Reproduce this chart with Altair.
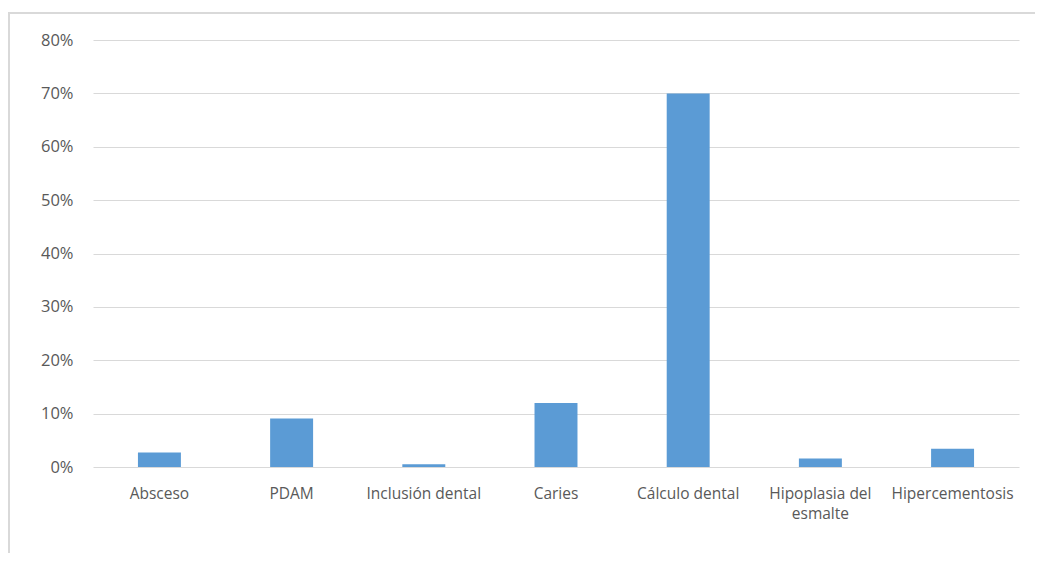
import altair as alt
import pandas as pd

categories = ["Absceso", "PDAM", "Inclusión dental", "Caries", "Cálculo dental",
              "Hipoplasia del esmalte", "Hipercementosis"]
values = [0.027, 0.091, 0.005, 0.120, 0.700, 0.016, 0.034]

df = pd.DataFrame({"cat": categories, "val": values})

font = "Open Sans"
bars = alt.Chart(df).mark_bar(color="#5b9bd5").encode(
    x=alt.X("cat:N", sort=categories, title=None,
            scale=alt.Scale(paddingInner=0.675, paddingOuter=0.34),
            axis=alt.Axis(labelAngle=0, labelFont=font, labelFontSize=15.5,
                          labelColor="#595959", labelPadding=19, ticks=False,
                          domain=False, labelLimit=200, labelLineHeight=20,
                          labelExpr="datum.value == 'Hipoplasia del esmalte' ? ['Hipoplasia del', 'esmalte'] : datum.value")),
    y=alt.Y("val:Q", title=None,
            scale=alt.Scale(domain=[0, 0.8]),
            axis=alt.Axis(format=".0%", values=[0, 0.1, 0.2, 0.3, 0.4, 0.5, 0.6, 0.7, 0.8],
                          labelFont=font, labelFontSize=16.5, labelColor="#595959",
                          labelPadding=20, ticks=False, domain=False,
                          gridColor="#d9d9d9", gridWidth=1.2)),
)

frame = alt.Chart(df).mark_rect(fill=None, stroke="#d9d9d9", strokeWidth=1.5).encode(
    x=alt.value(-84), x2=alt.value(1100), y=alt.value(-27), y2=alt.value(700)
)

chart = alt.layer(bars, frame).properties(
    width=926, height=427,
    autosize=alt.AutoSizeParams(type="none"),
    padding={"left": 85, "top": 32, "right": 16, "bottom": 86},
).configure_view(stroke=None)

chart.save("out.html", embed_options={"renderer": "svg", "actions": False})
